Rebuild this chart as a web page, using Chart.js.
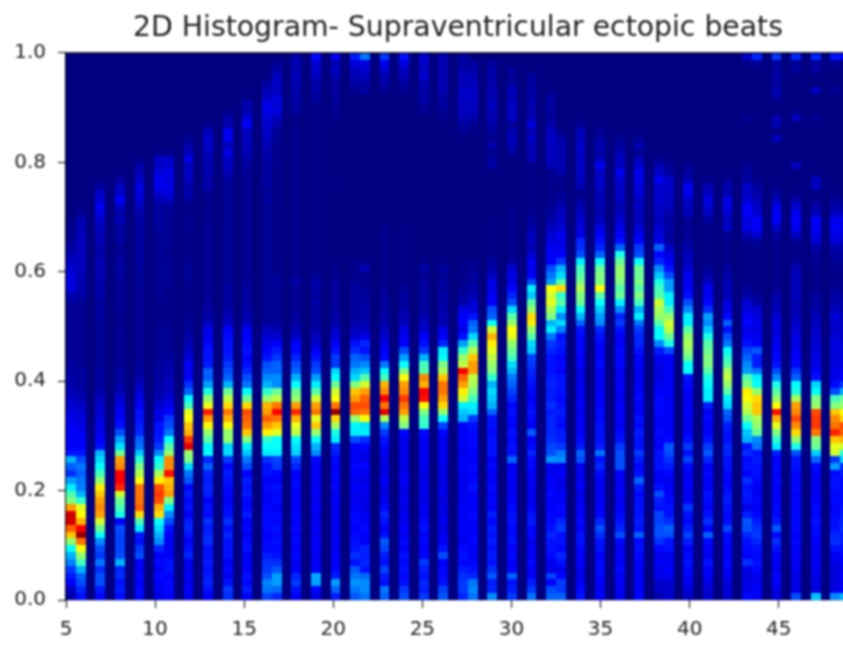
<!DOCTYPE html>
<html>
<head>
<meta charset="utf-8">
<title>2D Histogram</title>
<script src="https://cdn.jsdelivr.net/npm/chart.js@4"></script>
<style>
  html, body { margin: 0; padding: 0; background: #fff; overflow: hidden; width: 843px; height: 645px; }
  #wrap { width: 843px; height: 645px; overflow: hidden; }
  canvas { display: block; filter: blur(0.8px); }
</style>
</head>
<body>
<div id="wrap"><canvas id="hist" width="850" height="645"></canvas></div>
<script>
// heartbeat position on x, one list per position, counts bottom row first (0-100 scale)
const xValues = [5,6,7,8,9,10,11,12,13,14,15,16,17,18,19,20,21,22,23,24,25,26,27,28,29,30,31,32,33,34,35,36,37,38,39,40,41,42,43,44,45,46,47,48,49];
const xTicks = [5,10,15,20,25,30,35,40,45];
const yTicks = [0,0.2,0.4,0.6,0.8,1];
const binsX = 80, binsY = 80;

const c05 = [4,6,12,15,18,25,30,38,52,68,78,92,92,72,50,45,36,28,17,22,30,14,12,11,12,11,10,9,8,7,5,4,4,3,3,2,2,2,2,2,2,2,2,3,5,9,10,9,8,6,5,3,2,1,1,1];
const c06 = [14,16,20,22,30,44,52,62,76,98,88,70,62,60,42,30,25,24,22,24,20,14,12,12,11,10,9,8,7,5,4,3,3,3,2,2,2,2,2,2,2,2,2,2,4,5,5,5,6,6,6,6,6,6,5,5,2,1];
const c07 = [13,15,20,20,17,24,18,20,26,38,48,58,72,74,72,68,64,52,44,38,34,30,14,12,11,10,9,8,7,6,4,3,3,3,2,2,2,2,2,2,2,3,3,3,4,4,4,5,5,5,4,4,5,5,6,7,9,11,8,7,3,1];
const c08 = [14,15,14,17,16,30,20,19,19,19,20,12,40,45,48,58,84,88,88,74,72,48,35,28,20,14,12,12,10,8,5,4,3,3,2,2,2,2,2,2,1,1,2,2,2,2,2,3,3,3,2,2,3,3,3,6,4,7,12,8,6,3];
const c09 = [13,13,12,13,12,12,20,18,14,15,36,45,66,78,76,76,76,62,55,50,42,32,24,22,16,15,14,14,12,10,8,6,4,3,3,2,2,2,2,2,2,2,2,2,2,2,2,2,3,3,3,3,3,3,3,4,4,6,8,9,10,7,5,4,1];
const c10 = [10,11,12,13,11,13,12,16,26,30,34,38,66,70,80,82,80,64,54,42,38,26,18,15,14,14,10,10,8,5,4,4,3,3,3,2,2,2,2,2,1,1,1,1,2,2,2,2,2,2,2,2,2,2,3,3,3,3,5,8,11,11,9,7,7,1];
const c11 = [12,13,13,12,14,14,12,11,11,12,14,20,26,36,50,72,70,68,86,74,74,52,46,38,24,20,18,13,11,9,6,6,5,5,4,3,2,2,2,2,1,1,1,1,1,1,2,2,2,2,1,2,2,2,2,2,2,3,6,9,10,9,10,8,7,1];
const c12 = [11,12,11,12,11,11,16,14,12,14,16,15,12,14,13,15,13,21,24,34,50,52,90,82,70,68,62,60,44,38,22,17,12,11,12,9,7,5,4,3,2,2,1,1,1,1,2,2,2,2,1,1,1,1,2,2,1,1,3,5,4,6,7,6,11,6,4,2];
const c13 = [12,14,16,15,14,15,14,14,17,16,15,17,13,14,12,15,16,15,16,22,16,38,37,46,52,62,72,85,60,52,40,28,22,22,15,14,14,13,11,10,6,4,3,3,2,2,2,2,2,2,2,2,2,2,2,1,1,1,1,2,4,4,5,5,5,6,7,7,6,1];
const c14 = [17,18,14,11,13,12,14,14,14,16,14,17,14,13,12,13,13,14,15,13,18,34,34,52,52,62,70,76,66,56,48,30,22,20,18,15,14,14,13,12,7,5,4,3,3,3,2,2,2,2,2,2,2,2,2,2,2,2,2,2,2,3,5,6,7,10,6,11,11,4,4,1];
const c15 = [12,15,13,14,12,12,11,14,13,11,13,12,15,13,13,15,14,15,12,20,24,32,36,50,68,76,78,80,66,48,38,24,20,16,14,12,14,13,12,11,6,5,4,3,3,3,2,2,2,2,2,2,2,2,2,2,2,2,2,2,2,2,2,3,4,5,6,6,6,12,9,5,5,1];
const c16 = [19,24,25,20,18,17,15,13,13,12,13,13,13,13,12,12,13,12,14,14,17,36,38,42,64,72,78,72,70,52,42,30,26,22,20,14,12,10,8,6,3,2,2,2,2,2,2,2,2,2,2,2,2,2,2,2,2,2,3,2,3,3,3,3,4,4,5,6,7,8,8,10,10,7,5,3];
const c17 = [16,23,28,28,21,17,14,13,14,13,14,13,13,12,13,13,14,12,13,18,19,36,38,38,60,68,76,88,76,56,48,26,26,22,22,18,15,12,8,5,3,2,2,2,2,2,3,2,1,1,1,1,1,1,1,1,1,1,1,1,1,1,1,1,1,1,1,2,2,4,6,9,8,9,6,7,6,4,2];
const c18 = [12,14,18,16,12,11,13,12,13,12,13,12,13,12,12,12,13,13,12,16,19,33,35,38,56,60,70,84,72,52,48,38,30,22,20,16,13,12,7,5,3,3,2,2,2,2,4,2,1,1,1,1,1,1,1,1,1,1,1,1,1,1,1,1,1,1,1,1,1,1,1,3,3,4,4,5,6,5,5,4];
const c19 = [10,13,28,29,12,12,11,12,12,11,12,11,11,12,11,12,12,11,12,12,13,26,30,38,52,68,60,76,72,58,46,36,28,20,18,14,12,8,6,4,3,3,3,4,3,4,4,2,1,1,1,1,1,1,1,1,1,1,1,1,1,1,1,1,1,1,1,1,1,1,1,1,1,3,4,4,6,7,8,13];
const c20 = [15,22,28,15,13,12,12,11,12,11,11,12,11,11,12,11,13,12,13,12,13,15,16,36,40,54,66,98,76,62,58,48,38,34,18,18,14,12,9,7,4,4,3,3,3,3,3,1,1,1,0,0,0,0,0,0,0,0,0,0,1,0,0,0,0,0,0,0,0,0,1,2,2,3,3,3,5,7,5,12];
const c21 = [21,24,27,24,21,14,17,14,14,13,12,13,13,12,11,11,12,11,12,13,12,12,12,20,36,37,52,78,80,72,68,50,34,30,24,22,17,14,8,6,4,3,3,3,3,3,2,1,1,1,0,0,0,0,0,0,0,0,0,0,0,0,0,0,0,0,0,0,0,0,0,0,0,0,2,4,5,6,9,15];
const c22 = [24,26,26,23,14,16,15,16,12,12,13,12,11,10,10,11,11,10,11,13,10,10,13,17,36,35,62,76,80,78,72,58,46,32,26,20,14,16,10,6,5,4,4,3,3,2,1,1,5,1,0,0,0,0,0,0,0,0,0,0,0,0,0,0,0,0,0,0,0,0,0,0,0,0,3,3,6,8,9,24];
const c23 = [22,24,14,15,19,14,15,19,21,14,12,14,16,13,11,10,10,12,10,10,10,11,13,14,18,26,54,90,76,88,74,70,44,38,24,13,12,10,8,6,4,4,3,3,3,2,1,1,1,1,1,1,1,2,1,0,0,0,0,0,0,0,0,0,0,0,0,0,0,0,0,0,0,0,2,4,5,8,11,18];
const c24 = [20,18,14,13,14,13,14,12,13,11,12,11,11,10,11,10,10,12,11,10,11,11,10,11,13,50,56,72,76,82,74,72,62,50,38,28,20,12,11,10,6,5,4,3,3,2,1,1,1,1,1,1,1,1,1,0,0,0,0,0,0,0,0,0,0,0,0,0,0,0,0,0,0,0,2,3,5,6,10,14];
const c25 = [18,15,16,14,15,18,13,12,13,12,14,13,11,11,10,10,11,10,10,11,11,11,11,12,13,42,44,50,62,86,88,70,74,46,44,30,18,14,12,8,6,5,3,3,3,3,3,2,4,1,0,0,0,0,0,0,0,0,0,0,0,0,0,0,0,0,0,0,0,0,0,2,3,4,4,5,8,6,7,8];
const c26 = [21,19,14,13,13,12,20,14,12,11,10,11,10,10,9,11,10,10,10,10,11,11,11,11,13,19,38,52,66,72,76,76,68,54,50,38,36,16,12,10,5,5,4,4,4,3,3,2,3,1,0,0,0,0,0,0,0,0,0,0,0,0,0,0,0,0,0,0,0,0,1,2,3,3,5,5,5,5,5,5];
const c27 = [16,18,18,17,15,13,14,13,11,11,12,12,11,12,11,11,11,11,11,12,12,11,11,12,12,12,30,32,36,58,64,72,78,88,56,52,42,28,14,10,12,12,10,4,3,2,1,1,1,1,0,0,0,0,0,0,0,0,0,0,0,0,0,0,0,0,0,0,2,3,5,6,6,7,7,5,6,4,3,3];
const c28 = [24,26,24,16,14,13,11,12,13,12,12,12,13,12,12,12,14,13,12,13,12,12,13,13,13,14,18,34,36,44,50,54,56,72,72,68,55,46,34,24,22,14,9,8,5,4,3,3,2,1,0,0,0,0,0,0,0,0,0,0,0,0,0,0,0,0,0,0,1,2,4,6,6,7,7,6,5,4,3,0];
const c29 = [26,16,15,21,17,14,15,14,15,14,15,13,15,12,13,12,13,12,12,13,12,14,14,14,13,14,14,22,30,32,34,30,42,50,52,56,60,64,70,58,38,22,20,12,11,10,10,6,4,3,1,1,1,1,1,1,0,0,0,0,0,0,0,4,3,1,4,1,3,4,5,5,6,5,5,4,4,4,3,0];
const c30 = [18,15,14,22,13,12,13,12,14,13,13,14,14,13,12,12,11,12,12,12,22,14,14,13,14,12,13,14,13,16,19,22,24,30,34,44,48,52,60,62,52,46,34,20,16,13,10,10,8,3,1,1,1,1,2,1,1,1,0,0,0,0,0,0,0,3,5,6,5,2,7,6,7,5,6,3,2,3,0,0];
const c31 = [24,18,15,12,12,13,12,12,11,13,13,15,14,12,11,11,11,12,12,13,13,16,13,12,21,12,13,14,13,12,13,14,15,16,18,19,32,34,46,52,64,66,52,46,32,36,20,12,11,12,8,5,6,6,4,3,2,1,1,1,1,1,1,1,5,5,5,7,5,9,5,4,5,4,4,3,3,0,0,0];
const c32 = [22,20,12,19,10,11,13,14,14,16,14,13,13,12,12,13,12,12,11,11,27,20,19,17,16,16,16,15,17,15,15,16,15,14,14,14,16,18,24,36,30,50,54,60,58,62,28,24,20,12,12,11,9,8,6,4,3,2,1,1,1,1,1,5,6,6,6,7,6,4,2,3,3,3,1,0,0,0,0,0];
const c33 = [22,18,18,13,11,14,16,13,14,14,18,16,12,13,11,12,10,10,12,11,26,24,18,15,15,13,14,15,14,13,14,14,14,12,13,12,14,15,14,25,34,26,36,46,42,66,46,34,30,18,12,10,10,11,8,7,6,5,3,2,1,1,4,5,5,5,5,4,1,0,0,0,0,0,0,0,0,0,0,0];
const c34 = [14,13,12,10,11,12,12,13,14,14,12,13,12,12,11,10,12,11,11,11,20,22,15,13,12,12,12,11,12,11,11,11,10,10,12,12,13,13,13,14,22,30,38,48,50,55,50,46,44,36,20,17,16,10,9,8,6,5,3,1,5,6,7,7,6,7,7,6,6,2,0,0,0,0,0,0,0,0,0,0];
const c35 = [12,11,12,13,13,13,12,14,14,17,20,16,13,12,12,11,12,11,13,16,14,24,15,14,14,14,13,13,12,12,12,11,11,12,13,12,12,13,14,16,26,28,32,38,46,62,50,50,48,38,22,16,14,12,10,6,5,5,6,5,7,7,7,11,6,4,5,3,2,0,0,0,0,0,0,0,0,0,0,0];
const c36 = [11,11,12,11,13,12,12,11,13,20,16,14,13,12,11,12,11,11,12,20,20,20,18,14,13,11,12,12,12,11,11,12,11,11,13,13,13,12,12,14,18,16,26,36,48,46,50,52,52,48,40,22,14,12,10,8,6,5,6,7,7,8,11,6,6,5,3,2,0,0,0,0,0,0,0,0,0,0,0,0];
const c37 = [13,12,12,12,11,12,13,14,13,22,14,15,14,14,14,13,15,22,14,13,15,18,14,14,15,13,14,12,12,13,12,11,11,11,12,12,14,16,16,18,24,36,30,44,50,46,50,48,48,38,20,18,13,11,8,6,6,7,6,9,9,10,11,8,5,2,5,2,0,0,0,0,0,0,0,0,0,0,0,0];
const c38 = [5,7,7,11,10,12,10,13,17,20,20,19,19,14,15,20,14,12,12,14,14,14,12,12,13,12,12,13,13,13,12,11,10,9,10,11,15,26,38,38,46,52,54,58,46,44,40,32,26,16,13,22,10,9,8,6,7,7,8,7,8,11,7,5,2,0,0,0,0,0,0,0,0,0,0,0,0,0,0,0];
const c39 = [8,8,8,11,12,11,11,14,14,20,22,17,14,14,13,12,12,11,13,15,17,20,21,13,12,12,12,12,12,11,12,12,12,12,12,12,20,40,48,56,58,52,44,36,36,28,28,20,14,12,10,7,3,3,4,3,4,6,6,7,7,7,3,2,0,0,0,0,0,0,0,0,0,0,0,0,0,0,0,0];
const c40 = [7,9,11,12,13,14,13,12,15,19,15,13,14,18,12,11,12,12,11,13,19,14,18,14,12,11,11,12,12,11,12,13,14,38,38,48,52,54,52,46,36,36,26,20,14,12,11,11,8,6,6,4,3,2,2,2,6,6,7,11,11,5,3,2,0,0,0,0,0,0,0,0,0,0,0,0,0,0,0,0];
const c41 = [8,8,10,11,12,14,11,12,13,22,12,17,14,12,13,14,12,12,13,12,16,21,18,14,12,12,13,11,15,36,36,38,40,46,50,50,48,46,40,32,26,28,17,13,11,11,7,4,2,1,1,1,1,1,1,3,6,8,10,7,5,1,0,0,0,0,0,0,0,0,0,0,0,0,0,0,0,0,0,0];
const c42 = [8,9,9,11,12,13,12,12,13,13,19,14,13,14,15,14,13,12,13,14,14,16,16,14,14,15,20,22,34,36,46,52,56,54,46,42,38,24,20,14,22,13,10,9,5,6,5,4,3,1,1,1,1,2,7,6,8,10,10,5,5,2,0,0,0,0,0,0,0,0,0,0,0,0,0,0,0,0,0,0];
const c43 = [13,10,10,9,10,17,12,13,14,16,20,21,15,10,14,15,14,17,12,14,13,17,14,30,32,38,48,55,58,62,64,50,46,28,26,22,19,14,12,10,13,12,9,8,4,2,1,1,1,1,1,1,2,5,10,9,12,12,8,7,7,3,3,2,0,0,0,0,0,0,2,0,0,0,0,0,0,0,1,7];
const c44 = [11,12,11,11,13,14,13,14,16,18,17,15,13,12,13,11,12,13,14,14,15,14,24,26,48,52,54,68,68,66,52,38,36,24,15,15,21,12,11,10,10,9,8,4,2,1,1,1,1,1,1,1,3,8,12,12,8,7,5,4,3,1,0,0,0,0,0,0,0,0,0,0,0,0,0,0,0,0,2,16];
const c45 = [9,10,12,13,11,12,12,14,17,13,21,15,13,13,12,12,12,13,12,13,12,15,36,42,50,60,70,86,62,52,46,40,26,20,14,13,12,11,10,9,10,8,6,5,4,2,1,1,1,1,1,1,2,3,7,12,12,10,6,3,1,0,0,0,0,0,0,6,0,5,5,0,0,3,5,3,4,3,3,18];
const c46 = [20,10,10,10,11,11,12,12,13,12,13,13,13,13,13,12,13,13,13,14,14,20,40,52,66,74,80,74,72,54,40,38,22,18,13,12,11,10,10,8,7,6,5,5,6,6,6,6,5,2,1,1,2,7,11,12,11,8,4,1,0,0,0,6,0,0,0,0,0,0,6,1,0,0,0,0,0,3,2,16];
const c47 = [32,9,10,10,11,11,11,11,12,13,13,14,13,13,12,11,11,11,12,13,22,33,48,50,76,82,82,80,52,50,38,34,14,12,10,10,9,8,8,7,6,6,4,3,3,1,1,1,1,2,2,4,8,10,12,12,6,4,1,0,6,6,0,0,0,0,0,0,0,0,2,0,0,0,6,0,0,3,3,16];
const c48 = [26,10,9,9,9,10,11,14,17,16,14,14,13,12,13,13,14,14,13,28,18,58,60,68,84,76,74,68,50,44,20,13,10,10,9,9,9,9,8,7,8,9,6,4,4,2,1,1,1,2,3,5,9,10,12,11,7,4,3,1,0,0,0,0,0,0,0,0,0,0,0,0,0,0,2,0,0,0,2,14];
const c49 = [30,12,11,12,11,12,13,14,15,15,17,16,15,14,13,13,13,13,15,16,34,40,58,70,78,80,66,62,52,48,30,18,12,11,10,9,9,8,7,7,6,5,4,4,2,1,1,1,1,2,3,4,7,9,10,10,6,3,1,0,0,0,0,0,0,0,0,0,0,0,0,0,0,0,0,0,0,0,0,13];

const columns = [c05,c06,c07,c08,c09,c10,c11,c12,c13,c14,c15,c16,c17,c18,c19,c20,c21,c22,c23,c24,c25,c26,c27,c28,c29,c30,c31,c32,c33,c34,c35,c36,c37,c38,c39,c40,c41,c42,c43,c44,c45,c46,c47,c48,c49];

const xMin = 5, xMax = 49;
const binW = (xMax - xMin) / binsX;
const binH = 1 / binsY;

function jet(v) {
    const t = v / 100;
    const ch = c => Math.round(255 * Math.min(1, Math.max(0, 1.5 - Math.abs(4 * t - c))));
    return `rgb(${ch(3)},${ch(2)},${ch(1)})`;
}

// one point per cell, lower left corner of the bin
const cells = [];
xValues.forEach((x, i) => {
    const k = Math.min(binsX - 1, Math.floor((x - xMin) * binsX / (xMax - xMin)));
    columns[i].forEach((v, r) => {
        cells.push({ x: xMin + k * binW, y: r * binH, v: v });
    });
});

const heatmap = {
    id: "heatmap",
    beforeDatasetsDraw(chart) {
        const { ctx, chartArea: a, scales } = chart;
        ctx.save();
        ctx.fillStyle = jet(0);
        ctx.fillRect(a.left, a.top, a.right - a.left, a.bottom - a.top);
        chart.data.datasets[0].data.forEach(c => {
            const x0 = Math.round(scales.x.getPixelForValue(c.x));
            const x1 = Math.round(scales.x.getPixelForValue(c.x + binW));
            const y0 = Math.round(scales.y.getPixelForValue(c.y));
            const y1 = Math.round(scales.y.getPixelForValue(c.y + binH));
            ctx.fillStyle = jet(c.v);
            ctx.fillRect(x0, y1, x1 - x0, y0 - y1);
        });
        // top spine
        ctx.strokeStyle = "#000";
        ctx.lineWidth = 1.2;
        ctx.beginPath();
        ctx.moveTo(a.left, a.top);
        ctx.lineTo(a.right, a.top);
        ctx.stroke();
        ctx.restore();
    }
};

const tickFont = { family: "DejaVu Sans", size: 20 };

new Chart(document.getElementById("hist"), {
    type: "scatter",
    data: { datasets: [{ data: cells, pointRadius: 0, pointHoverRadius: 0 }] },
    options: {
        responsive: false,
        animation: false,
        events: [],
        plugins: {
            legend: { display: false },
            tooltip: { enabled: false },
            title: {
                display: true,
                fullSize: false,
                text: "2D Histogram- Supraventricular ectopic beats",
                color: "#222",
                font: { family: "DejaVu Sans", size: 28.3, weight: "normal" },
                padding: { top: 12, bottom: 7 }
            }
        },
        scales: {
            x: {
                type: "linear",
                min: xMin,
                max: xMax,
                afterBuildTicks: s => { s.ticks = xTicks.map(v => ({ value: v })); },
                afterFit: s => { s.height = 45; },
                grid: { drawOnChartArea: false, tickLength: 8, color: "#222", tickWidth: 1.2 },
                border: { color: "#000", width: 1.2 },
                ticks: { color: "#222", font: tickFont, maxRotation: 0, autoSkip: false, padding: 10 }
            },
            y: {
                min: 0,
                max: 1,
                afterBuildTicks: s => { s.ticks = yTicks.map(v => ({ value: v })); },
                afterFit: s => { s.width = 66; },
                grid: { drawOnChartArea: false, tickLength: 8, color: "#222", tickWidth: 1.2 },
                border: { color: "#000", width: 1.2 },
                ticks: { color: "#222", font: tickFont, autoSkip: false, padding: 12, callback: v => v.toFixed(1) }
            }
        }
    },
    plugins: [heatmap]
});
</script>
</body>
</html>
